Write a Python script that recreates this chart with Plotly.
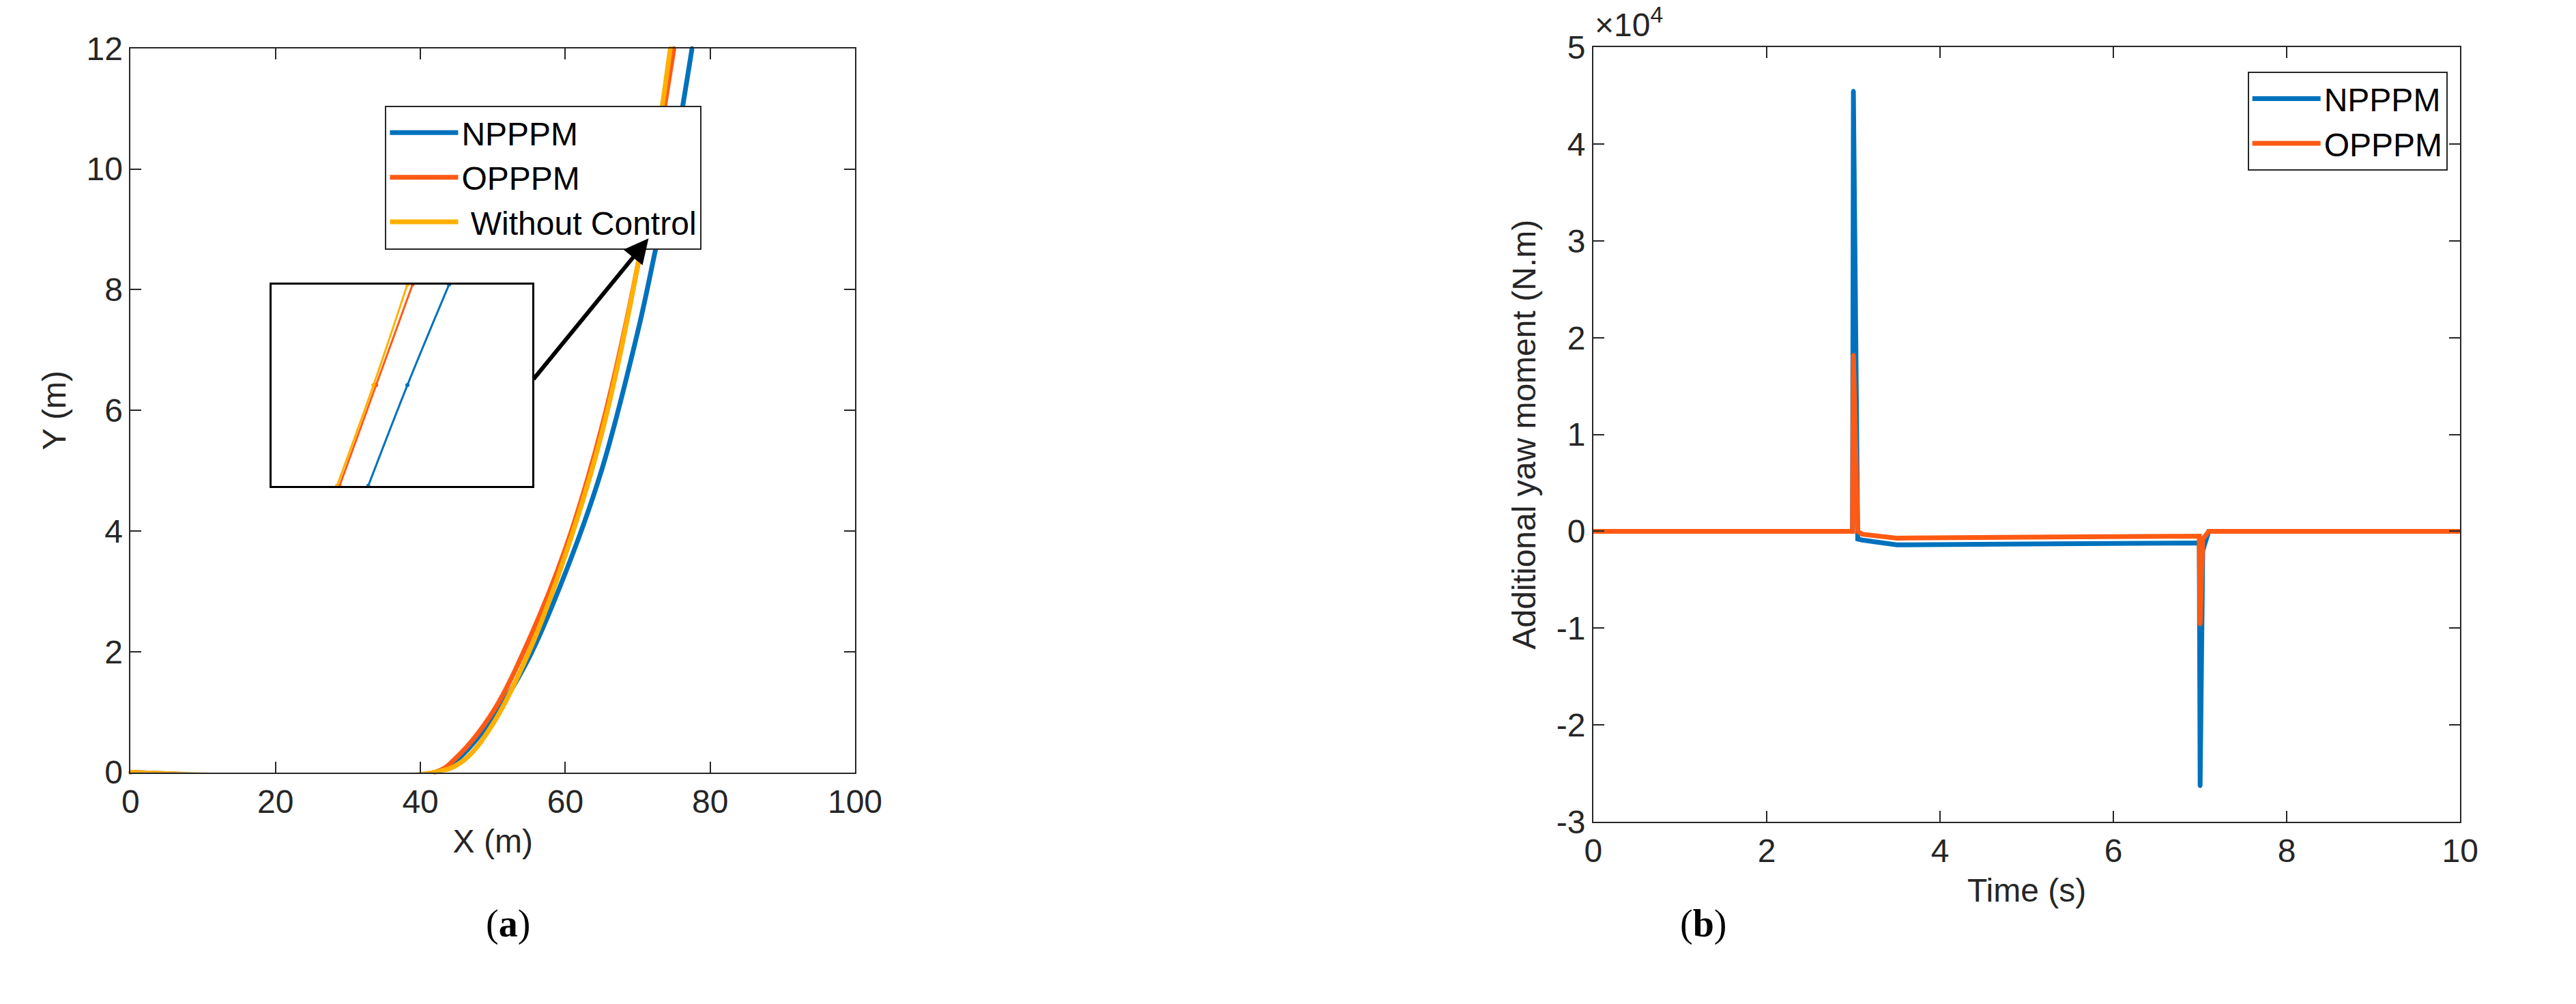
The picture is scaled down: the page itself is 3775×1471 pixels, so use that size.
import plotly.graph_objects as go

# (a) trajectories
x_np = [0, 42, 45, 50, 55, 60, 65, 70, 72, 75, 77.5]
y_np = [0, 0, 0.2, 0.9, 1.9, 3.3, 5.0, 7.3, 8.4, 10.2, 12]
x_op = [0, 42, 45, 50, 55, 60, 65, 70, 73, 75]
y_op = [0, 0, 0.25, 1.0, 2.2, 3.7, 5.7, 8.4, 10.5, 12]
x_wc = [0, 42, 46, 50, 55, 60, 65, 70, 72.5, 74.5]
y_wc = [0, 0, 0.2, 0.8, 2.0, 3.6, 5.6, 8.4, 10.3, 12]

# inset (zoomed) lines, in inset units
ix_np = [0.37, 0.52, 0.68]
ix_op = [0.26, 0.40, 0.54]
ix_wc = [0.25, 0.39, 0.52]
iy = [0, 0.5, 1]

# (b) additional yaw moment
t_np = [0, 2.99, 3.0, 3.05, 3.1, 3.5, 5, 6.99, 7.0, 7.03, 7.1, 10]
m_np = [0, 0, 45500, -800, -900, -1400, -1300, -1200, -26300, -2000, 0, 0]
t_op = [0, 2.99, 3.0, 3.05, 3.1, 3.5, 5, 6.99, 7.0, 7.03, 7.1, 10]
m_op = [0, 0, 18200, 0, -300, -700, -600, -500, -9600, -800, 0, 0]

BLUE = "#0072BD"
ORANGE = "#FF5A14"
YELLOW = "#FFB000"
FONT = dict(family="Liberation Sans", size=48, color="#262626")

fig = go.Figure()
fig.add_trace(go.Scatter(x=x_np, y=y_np, name="NPPPM", cliponaxis=False,
                         line=dict(color=BLUE, width=7, shape="spline"), legend="legend"))
fig.add_trace(go.Scatter(x=x_op, y=y_op, name="OPPPM", cliponaxis=False,
                         line=dict(color=ORANGE, width=7, shape="spline"), legend="legend"))
fig.add_trace(go.Scatter(x=x_wc, y=y_wc, name=" Without Control", cliponaxis=False,
                         line=dict(color=YELLOW, width=7, shape="spline"), legend="legend"))

for xs, c in [(ix_np, BLUE), (ix_op, ORANGE), (ix_wc, YELLOW)]:
    fig.add_trace(go.Scatter(x=xs, y=iy, xaxis="x3", yaxis="y3", showlegend=False,
                             line=dict(color=c, width=3, shape="spline")))

fig.add_trace(go.Scatter(x=t_np, y=m_np, name="NPPPM", xaxis="x2", yaxis="y2",
                         line=dict(color=BLUE, width=7), legend="legend2"))
fig.add_trace(go.Scatter(x=t_op, y=m_op, name="OPPPM", xaxis="x2", yaxis="y2",
                         line=dict(color=ORANGE, width=7), legend="legend2"))

ax_common = dict(showline=True, linecolor="#262626", linewidth=2, mirror="ticks", ticks="inside",
                 ticklen=16, tickwidth=2, tickcolor="#262626", showgrid=False, zeroline=False,
                 tickfont=FONT, title_font=FONT)

fig.update_layout(
    width=3775, height=1471, margin=dict(l=0, r=0, t=0, b=0),
    paper_bgcolor="white", plot_bgcolor="white", font=FONT,
    xaxis=dict(ax_common, domain=[0.0458, 0.331], range=[0, 100], dtick=20, title_text="X (m)",
               anchor="y"),
    yaxis=dict(ax_common, domain=[0.226, 0.974], range=[0, 12], dtick=2, title_text="Y (m)",
               anchor="x"),
    xaxis2=dict(ax_common, domain=[0.6217, 0.963], range=[0, 10], dtick=2, title_text="Time (s)",
                anchor="y2"),
    yaxis2=dict(ax_common, domain=[0.175, 0.975], range=[-30000, 50000],
                tickvals=[-30000, -20000, -10000, 0, 10000, 20000, 30000, 40000, 50000],
                ticktext=["-3", "-2", "-1", "0", "1", "2", "3", "4", "5"],
                title_text="Additional yaw moment (N.m)", anchor="x2"),
    xaxis3=dict(domain=[0.1014, 0.204], range=[0, 1], showticklabels=False, ticks="",
                showgrid=False, zeroline=False, showline=True, mirror=True, linecolor="black",
                linewidth=3, anchor="y3"),
    yaxis3=dict(domain=[0.522, 0.730], range=[0, 1], showticklabels=False, ticks="",
                showgrid=False, zeroline=False, showline=True, mirror=True, linecolor="black",
                linewidth=3, anchor="x3"),
    legend=dict(x=0.146, y=0.915, xanchor="left", yanchor="top", bgcolor="white",
                bordercolor="#262626", borderwidth=2, font=dict(FONT, color="black"),
                itemwidth=100),
    legend2=dict(x=0.958, y=0.95, xanchor="right", yanchor="top", bgcolor="white",
                 bordercolor="#262626", borderwidth=2, font=dict(FONT, color="black"),
                 itemwidth=100),
)

fig.add_annotation(x=71.5, y=8.85, ax=55.5, ay=6.5, xref="x", yref="y", axref="x", ayref="y",
                   text="", showarrow=True, arrowhead=2, arrowsize=1.2, arrowwidth=6,
                   arrowcolor="black")
fig.add_annotation(x=0.6217, y=0.978, xref="paper", yref="paper", xanchor="left", yanchor="bottom",
                   text="×10<sup>4</sup>", showarrow=False, font=FONT)
fig.add_annotation(x=0.185, y=0.046, xref="paper", yref="paper", text="(<b>a</b>)", showarrow=False,
                   font=dict(family="Liberation Serif", size=56, color="black"))
fig.add_annotation(x=0.665, y=0.046, xref="paper", yref="paper", text="(<b>b</b>)", showarrow=False,
                   font=dict(family="Liberation Serif", size=56, color="black"))

fig.write_html("out.html")
